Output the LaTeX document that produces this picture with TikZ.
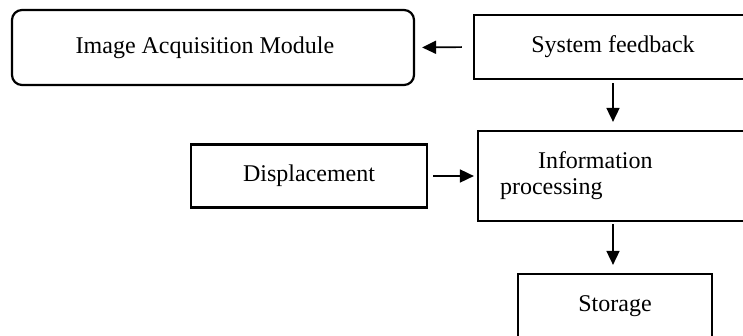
\documentclass[tikz,border=0pt]{standalone}
\usepackage{fontspec}
\setmainfont{Liberation Serif}
\usetikzlibrary{arrows.meta}
\tikzstyle{box}=[draw=black, line width=2.2pt, inner sep=0pt, font=\fontsize{24}{26}\selectfont]
\tikzstyle{arr}=[line width=1.7pt, -{Triangle[length=14pt, width=13pt]}]

\begin{document}
\begin{tikzpicture}[x=1pt, y=-1pt]
    \useasboundingbox (0,0) rectangle (743,335);
    \node[box, rounded corners=10pt, minimum width=402pt, minimum height=75pt] (acq) at (213,47.5) {\hspace*{-16pt}Image Acquisition Module};
    \node[box, minimum width=278pt, minimum height=64pt] (feed) at (613,47) {System feedback};
    \node[box, minimum width=236pt, minimum height=63pt] (disp) at (309,176) {Displacement};
    \node[box, minimum width=270pt, minimum height=90pt, inner xsep=22pt, text width=226pt, align=left] (proc) at (613,176) {\hspace*{38pt}Information\\processing\par\vspace*{13pt}};
    \node[box, minimum width=194pt, minimum height=64pt] (stor) at (615,306) {Storage};
    \draw[arr, shorten <=11pt, shorten >=7pt] (feed.west) -- (acq.east);
    \draw[arr, shorten <=3pt, shorten >=8pt] (feed.south) -- (proc.north);
    \draw[arr, shorten <=5pt, shorten >=3pt] (disp.east) -- (proc.west);
    \draw[arr, shorten <=2pt, shorten >=8pt] (proc.south) -- (proc.south |- stor.north);
\end{tikzpicture}
\end{document}
